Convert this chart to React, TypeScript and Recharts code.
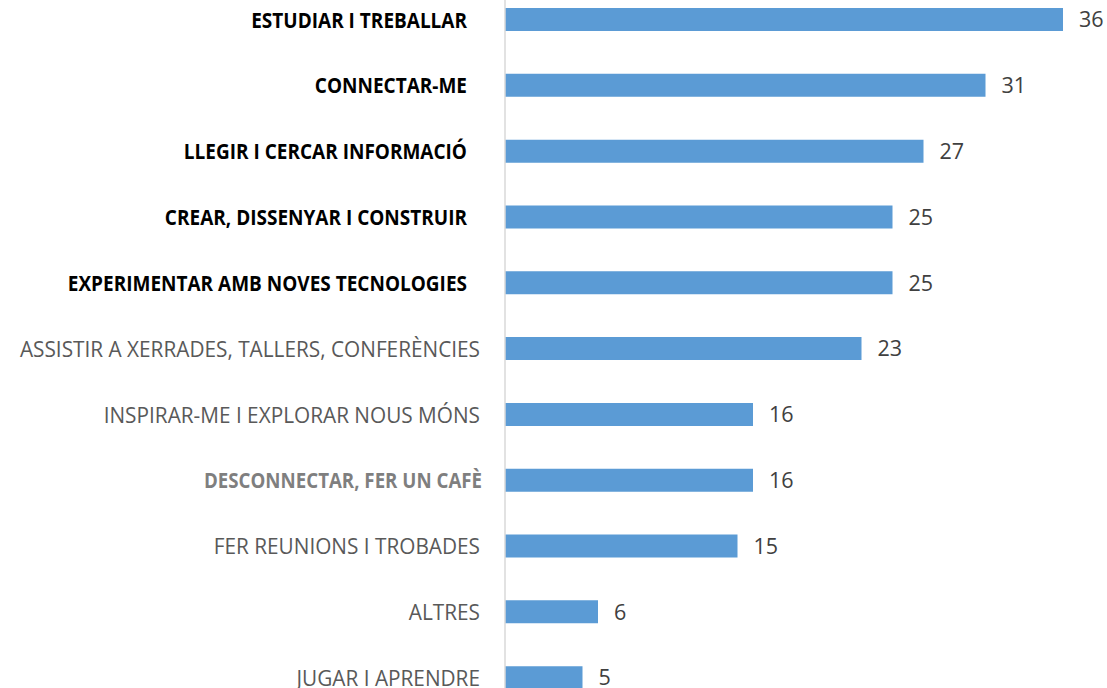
import React from "react";
import { BarChart, Bar, XAxis, YAxis, LabelList } from "recharts";

const activities = [
  "ESTUDIAR I TREBALLAR",
  "CONNECTAR-ME",
  "LLEGIR I CERCAR INFORMACIÓ",
  "CREAR, DISSENYAR I CONSTRUIR",
  "EXPERIMENTAR AMB NOVES TECNOLOGIES",
  "ASSISTIR A XERRADES, TALLERS, CONFERÈNCIES",
  "INSPIRAR-ME I EXPLORAR NOUS MÓNS",
  "DESCONNECTAR, FER UN CAFÈ",
  "FER REUNIONS I TROBADES",
  "ALTRES",
  "JUGAR I APRENDRE",
];

const responses = [36, 31, 27, 25, 25, 23, 16, 16, 15, 6, 5];

// labels drawn bold in the original
const boldBlack = activities.slice(0, 5);
const boldGrey = ["DESCONNECTAR, FER UN CAFÈ"];

const data = activities.map((name, i) => ({ name, value: responses[i] }));

const FONT = "'Open Sans', 'Noto Sans', sans-serif";

const ActivityTick = (props: any) => {
  const { x, y, payload } = props;
  const label = payload.value as string;
  let dx = -2;
  let size = 20.8;
  let weight = 400;
  let color = "#595959";
  let stretch = 1.08;
  if (boldBlack.includes(label)) {
    dx = -15;
    size = 19;
    weight = 700;
    color = "#000000";
    stretch = 1.15;
  } else if (boldGrey.includes(label)) {
    dx = 0;
    size = 18.7;
    weight = 700;
    color = "#7f7f7f";
    stretch = 1.15;
  }
  return (
    <g transform={`translate(${x + dx},${y}) scale(1,${stretch})`}>
      <text x={0} y={0} dy="0.35em" textAnchor="end" fontFamily={FONT} fontSize={size} fontWeight={weight} fill={color}>
        {label}
      </text>
    </g>
  );
};

const ValueLabel = (props: any) => {
  const { x, y, width, height, value } = props;
  return (
    <text
      x={x + width + 16}
      y={y + height / 2}
      dy="0.36em"
      fill="#404040"
      fontFamily={FONT}
      fontSize={21.5}
    >
      {value}
    </text>
  );
};

export default function App() {
  return (
    <div style={{ position: "absolute", left: 0, top: 0, width: 1107, height: 688, overflow: "hidden", background: "#fff" }}>
      <div style={{ position: "absolute", left: 0, top: -13 }}>
        <BarChart
          width={1107}
          height={724}
          data={data}
          layout="vertical"
          margin={{ top: 0, right: 44, bottom: 0, left: 0 }}
          barSize={23}
        >
          <XAxis type="number" domain={[0, 36]} hide />
          <YAxis
            type="category"
            dataKey="name"
            width={505}
            tickSize={0}
            tickMargin={23}
            axisLine={{ stroke: "#D9D9D9", strokeWidth: 1.5 }}
            tickLine={false}
            tick={<ActivityTick />}
            interval={0}
          />
          <Bar dataKey="value" fill="#5B9BD5" isAnimationActive={false}>
            <LabelList dataKey="value" content={<ValueLabel />} />
          </Bar>
        </BarChart>
      </div>
    </div>
  );
}
